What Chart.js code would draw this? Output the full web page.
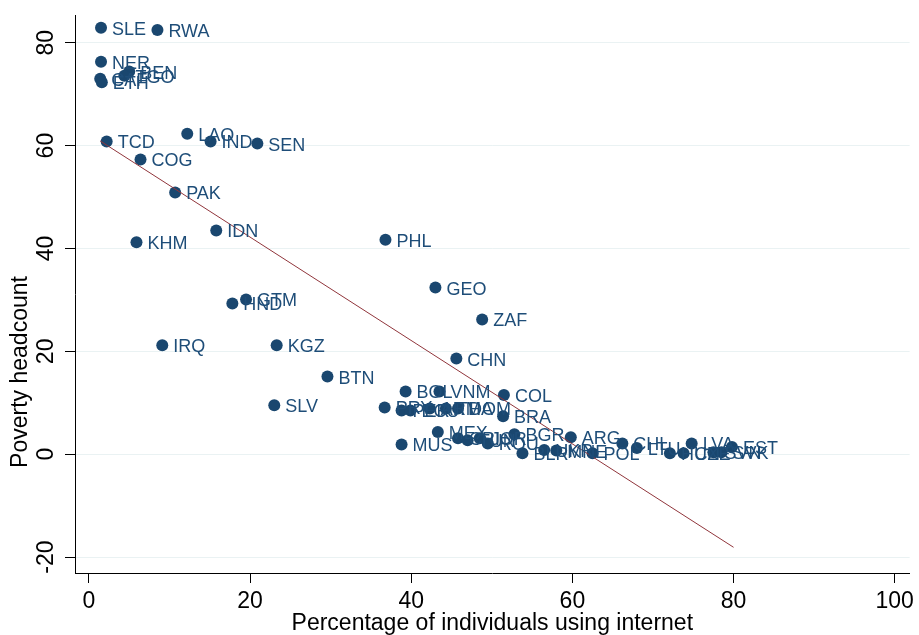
<!DOCTYPE html>
<html>
<head>
<meta charset="utf-8">
<script src="https://cdn.jsdelivr.net/npm/chart.js@4"></script>
<style>
  html, body { margin: 0; padding: 0; background: #fff; }
  canvas { display: block; }
</style>
</head>
<body>
<canvas id="chart" width="919" height="635"></canvas>
<script>
// country codes, % using internet, poverty headcount
const countries = ['SLE','RWA','NER','BEN','TGO','CAF','ETH','TCD','LAO','IND','SEN','COG','PAK','IDN','KHM','PHL',
  'HND','GTM','GEO','ZAF','IRQ','KGZ','CHN','BTN','BOL','VNM','COL','SLV','PRY','PER','ECU','ARM','THA','DOM','BRA',
  'MEX','MUS','CRI','TUN','JOR','ROU','BGR','BLR','UKR','MNE','ARG','POL','CHL','LTU','HUN','CZE','LVA','SVN','SVK','EST'];
const internet = [1.5, 8.5, 1.5, 5.0, 4.4, 1.4, 1.6, 2.2, 12.2, 15.1, 20.9, 6.4, 10.7, 15.8, 5.9, 36.8,
  17.8, 19.5, 43.0, 48.8, 9.1, 23.3, 45.6, 29.6, 39.3, 43.5, 51.5, 23.0, 36.7, 38.8, 39.9, 42.3, 44.3, 45.8, 51.4,
  43.3, 38.8, 45.8, 47.0, 48.5, 49.5, 52.8, 53.8, 56.5, 58.0, 59.8, 62.5, 66.2, 68.0, 72.1, 73.8, 74.8, 77.5, 78.5, 79.8];
const poverty = [82.9, 82.5, 76.3, 74.4, 73.6, 73.0, 72.3, 60.8, 62.3, 60.8, 60.4, 57.3, 50.9, 43.5, 41.2, 41.7,
  29.3, 30.1, 32.4, 26.2, 21.2, 21.2, 18.6, 15.1, 12.2, 12.2, 11.5, 9.5, 9.1, 8.5, 8.5, 8.9, 8.9, 8.9, 7.4,
  4.3, 1.9, 3.1, 2.7, 3.1, 2.1, 3.9, 0.2, 0.8, 0.7, 3.3, 0.2, 2.1, 1.2, 0.2, 0.2, 2.1, 0.4, 0.4, 1.4];

// fitted line end points
const fitX = [1.4, 80.0];
const fitY = [60.9, -18.1];

const xTicks = [0, 20, 40, 60, 80, 100];
const yTicks = [-20, 0, 20, 40, 60, 80];

const navy = '#1a476f';
const font = 'Liberation Sans, Arial, sans-serif';

const labelPlugin = {
  id: 'markerLabels',
  afterDatasetsDraw(chart) {
    const { ctx } = chart;
    const meta = chart.getDatasetMeta(1);
    ctx.save();
    ctx.font = '18px ' + font;
    ctx.fillStyle = '#1e4d78';
    ctx.textBaseline = 'middle';
    ctx.textAlign = 'left';
    meta.data.forEach((pt, i) => {
      ctx.fillText(countries[i], pt.x + 11, pt.y + 2);
    });
    ctx.restore();
  }
};

const yTitlePlugin = {
  id: 'yTitle',
  afterDraw(chart) {
    const { ctx } = chart;
    ctx.save();
    ctx.translate(21, 372);
    ctx.rotate(-Math.PI / 2);
    ctx.font = '23px ' + font;
    ctx.fillStyle = '#000';
    ctx.textAlign = 'center';
    ctx.textBaseline = 'middle';
    ctx.fillText('Poverty headcount', 0, 0);
    ctx.restore();
  }
};

new Chart(document.getElementById('chart').getContext('2d'), {
  data: {
    datasets: [
      {
        type: 'line',
        data: fitX.map((x, i) => ({ x: x, y: fitY[i] })),
        borderColor: '#90353b',
        borderWidth: 1,
        pointRadius: 0,
        fill: false
      },
      {
        type: 'scatter',
        data: internet.map((x, i) => ({ x: x, y: poverty[i] })),
        backgroundColor: navy,
        borderColor: navy,
        borderWidth: 0,
        pointRadius: 6
      }
    ]
  },
  options: {
    responsive: false,
    animation: false,
    layout: { padding: { top: 15, right: 4, left: 0, bottom: 0 } },
    plugins: {
      legend: { display: false },
      tooltip: { enabled: false }
    },
    scales: {
      x: {
        type: 'linear',
        min: -1.73,
        max: 101.85,
        afterBuildTicks: (axis) => { axis.ticks = xTicks.map(v => ({ value: v })); },
        afterFit: (axis) => { axis.height = 62; },
        border: { display: true, color: '#000', width: 1 },
        grid: { drawOnChartArea: false, drawTicks: true, tickLength: 10, tickColor: '#000' },
        ticks: { color: '#000', padding: 5, maxRotation: 0, font: { family: font, size: 23 } },
        title: {
          display: true,
          text: 'Percentage of individuals using internet',
          color: '#000',
          padding: { top: 0, bottom: 0 },
          font: { family: font, size: 23, lineHeight: 1 }
        }
      },
      y: {
        type: 'linear',
        min: -23.1,
        max: 85.24,
        afterBuildTicks: (axis) => { axis.ticks = yTicks.map(v => ({ value: v })); },
        afterFit: (axis) => { axis.width = 75; },
        border: { display: true, color: '#000', width: 1 },
        grid: { color: '#eaf2f3', lineWidth: 1, drawTicks: true, tickLength: 10, tickColor: '#000' },
        ticks: {
          color: '#000',
          padding: 2,
          minRotation: 90,
          maxRotation: 90,
          crossAlign: 'center',
          font: { family: font, size: 23 }
        }
      }
    }
  },
  plugins: [labelPlugin, yTitlePlugin]
});
</script>
</body>
</html>
